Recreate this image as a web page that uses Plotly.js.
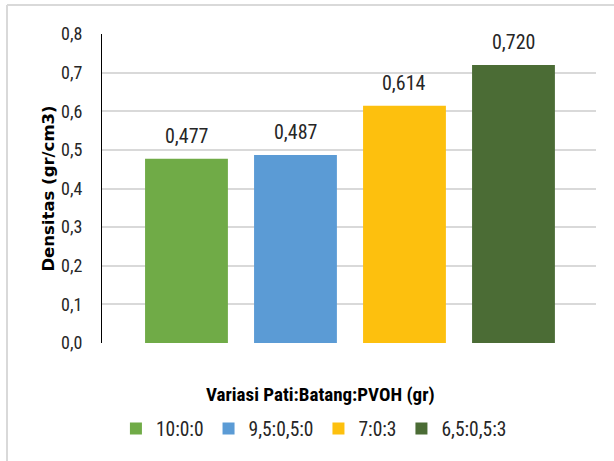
<!DOCTYPE html>
<html>
<head>
<meta charset="utf-8">
<script src="https://cdn.plot.ly/plotly-3.0.1.min.js"></script>
<style>html,body{margin:0;padding:0;background:#fff;}#chart{width:614px;height:461px;}</style>
</head>
<body>
<div id="chart"></div>
<script>
var categories = ['10:0:0', '9,5:0,5:0', '7:0:3', '6,5:0,5:3'];
var densitas = [0.477, 0.487, 0.614, 0.720];
var barColors = ['#70ab47', '#5b9bd5', '#fdc00e', '#4b6c35'];
var yTicks = [0, 0.1, 0.2, 0.3, 0.4, 0.5, 0.6, 0.7, 0.8];

var FONT = '"Roboto Condensed", Carlito, "Liberation Sans", sans-serif';

var traces = categories.map(function (c, i) {
  return {
    type: 'bar',
    x: [c],
    y: [densitas[i]],
    name: c,
    width: 0.76,
    marker: {color: barColors[i], line: {width: 0}},
    hoverinfo: 'none'
  };
});

var anns = categories.map(function (c, i) {
  return {
    x: c, y: densitas[i], xref: 'x', yref: 'y',
    text: densitas[i].toFixed(3).replace('.', ','),
    showarrow: false, yanchor: 'middle', yshift: 23,
    font: {family: FONT, size: 20, color: '#262626'}
  };
});

anns.push({
  x: 0.443, y: -0.168, xref: 'paper', yref: 'paper',
  text: '<b>Variasi Pati:Batang:PVOH (gr)</b>',
  showarrow: false, xanchor: 'center', yanchor: 'middle',
  font: {family: FONT, size: 19, color: '#000000'}
});

var layout = {
  width: 614, height: 461,
  margin: {l: 102, r: 18, t: 34, b: 118},
  paper_bgcolor: '#ffffff', plot_bgcolor: '#ffffff',
  separators: ',.',
  barmode: 'overlay',
  showlegend: true,
  legend: {
    orientation: 'h', x: 0.429, xanchor: 'center', y: -0.278, yanchor: 'middle',
    font: {family: FONT, size: 19.5, color: '#262626'},
    itemclick: false, itemdoubleclick: false
  },
  xaxis: {
    type: 'category', range: [-0.775, 3.757],
    showticklabels: false, showgrid: false, zeroline: false, showline: false, ticks: ''
  },
  yaxis: {
    range: [0, 0.8], tickvals: yTicks, tickformat: '.1f',
    showgrid: true, gridcolor: '#d9d9d9', gridwidth: 2,
    zeroline: false, showline: true, linecolor: '#000000', linewidth: 1,
    ticks: '', ticklabelstandoff: 15,
    tickfont: {family: FONT, size: 18, color: '#262626'},
    title: {text: '<b>Densitas (gr/cm3)</b>', standoff: 2,
            font: {family: '"DejaVu Sans", sans-serif', size: 16.5, color: '#000000'}}
  },
  annotations: anns,
  shapes: [
    {type: 'line', xref: 'paper', yref: 'paper', x0: -0.1923, x1: -0.1923, y0: -0.40, y1: 1.094,
     line: {color: '#d9d9d9', width: 2}},
    {type: 'line', xref: 'paper', yref: 'paper', x0: -0.1923, x1: 1.05, y0: 1.094, y1: 1.094,
     line: {color: '#d9d9d9', width: 2}}
  ]
};

Plotly.newPlot('chart', traces, layout, {displayModeBar: false, staticPlot: true});
</script>
</body>
</html>
